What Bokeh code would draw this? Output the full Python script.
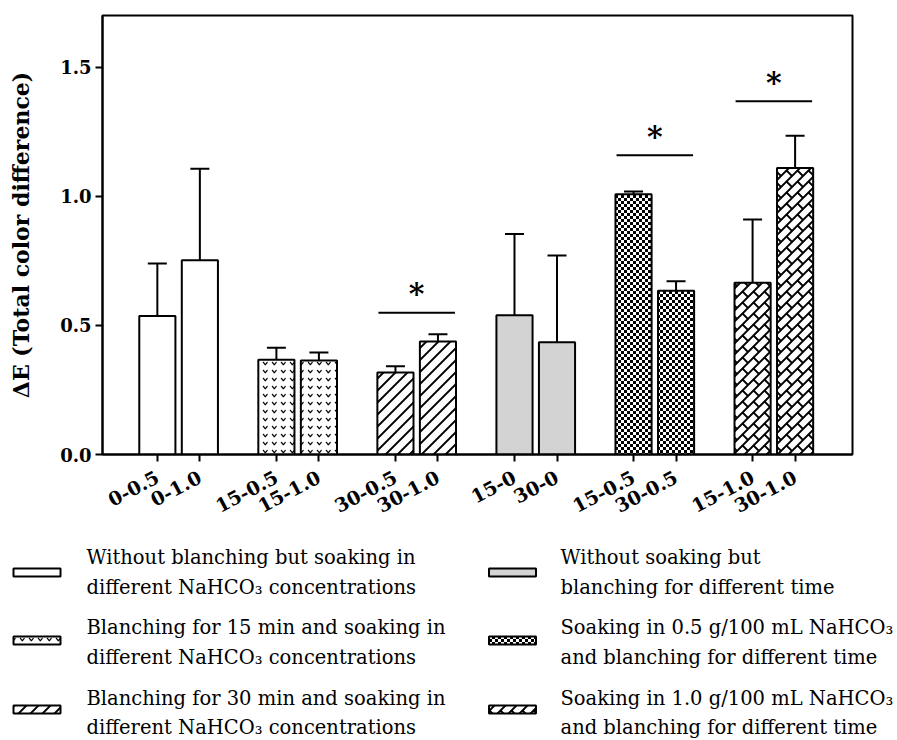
import math, zlib, struct, base64
from bokeh.plotting import figure
from bokeh.models import (ColumnDataSource, Range1d, FixedTicker, NumeralTickFormatter,
                          Whisker, TeeHead, ImageURLTexture)
from bokeh.core.properties import value
from bokeh.embed import file_html
from bokeh.resources import INLINE

# ---------------- data ----------------
labels = ["0-0.5", "0-1.0", "15-0.5", "15-1.0", "30-0.5", "30-1.0",
          "15-0", "30-0", "15-0.5", "30-0.5", "15-1.0", "30-1.0"]
groups = [0, 0, 1, 1, 2, 2, 3, 3, 4, 4, 5, 5]
slots = [0, 1, 0, 1, 0, 1, 0, 1, 0, 1, 0, 1]
means = [0.536, 0.752, 0.367, 0.364, 0.318, 0.438,
         0.539, 0.435, 1.008, 0.634, 0.665, 1.109]
sds = [0.204, 0.355, 0.046, 0.031, 0.024, 0.028,
       0.315, 0.336, 0.010, 0.037, 0.245, 0.125]

group_fill = ["white", "white", "white", "#d3d3d3", "white", "white"]
group_hatch = ["blank", "vmark", "diag", "blank", "checker", "brick"]

sig_groups = [2, 4, 5]
sig_y = [0.549, 1.159, 1.368]

legend_text = [
    ("Without blanching but soaking in", "different NaHCO\u2083 concentrations"),
    ("Blanching for 15 min and soaking in", "different NaHCO\u2083 concentrations"),
    ("Blanching for 30 min and soaking in", "different NaHCO\u2083 concentrations"),
    ("Without soaking but", "blanching for different time"),
    ("Soaking in 0.5 g/100 mL NaHCO\u2083", "and blanching for different time"),
    ("Soaking in 1.0 g/100 mL NaHCO\u2083", "and blanching for different time"),
]

y_ticks = [0.0, 0.5, 1.0, 1.5]
y_label = "\u0394E (Total color difference)"


# ---------------- pattern tiles (PNG data URIs) ----------------
def _png_uri(wd, ht, cover, n=4):
    rows = []
    for py in range(ht):
        row = bytearray()
        for px in range(wd):
            c = 0
            for sy in range(n):
                for sx in range(n):
                    if cover(px + (sx + 0.5) / n, py + (sy + 0.5) / n):
                        c += 1
            row += bytes((0, 0, 0, round(255 * c / (n * n))))
        rows.append(b"\x00" + bytes(row))
    raw = b"".join(rows)

    def chunk(t, d):
        return struct.pack(">I", len(d)) + t + d + struct.pack(">I", zlib.crc32(t + d) & 0xffffffff)

    png = (b"\x89PNG\r\n\x1a\n"
           + chunk(b"IHDR", struct.pack(">IIBBBBB", wd, ht, 8, 6, 0, 0, 0))
           + chunk(b"IDAT", zlib.compress(raw, 9))
           + chunk(b"IEND", b""))
    return "data:image/png;base64," + base64.b64encode(png).decode()


def _seg_d(px, py, ax, ay, bx, by):
    dx, dy = bx - ax, by - ay
    t = ((px - ax) * dx + (py - ay) * dy) / (dx * dx + dy * dy)
    t = max(0.0, min(1.0, t))
    return math.hypot(px - ax - t * dx, py - ay - t * dy)


def _periodic_segs(wd, ht, segs, w):
    def cover(x, y):
        for ox in (-wd, 0, wd):
            for oy in (-ht, 0, ht):
                for (ax, ay, bx, by) in segs:
                    if _seg_d(x, y, ax + ox, ay + oy, bx + ox, by + oy) <= w / 2:
                        return True
        return False
    return cover


def _diag(size, w):
    def cover(x, y):
        t = (x + y) % size
        return min(t, size - t) / math.sqrt(2) <= w / 2
    return cover


def _brick(size, w):
    d = _diag(size, w)
    j = _periodic_segs(size, size, [(size / 2, size / 2, size, size)], w)
    return lambda x, y: d(x, y) or j(x, y)


def _checker(size):
    h = size // 2
    return lambda x, y: ((int(x) // h) + (int(y) // h)) % 2 == 0


textures = {
    "vmark": ImageURLTexture(url=_png_uri(9, 8, _periodic_segs(
        9, 8, [(2.4, 2.4, 4.3, 4.8), (4.3, 4.8, 6.2, 2.4)], 1.2))),
    "diag": ImageURLTexture(url=_png_uri(12, 12, _diag(12, 2.0))),
    "checker": ImageURLTexture(url=_png_uri(6, 6, _checker(6), n=1)),
    "brick": ImageURLTexture(url=_png_uri(11, 11, _brick(11, 1.9))),
}

# ---------------- main chart ----------------
GROUP_PITCH = 28
BAR_PITCH = 10
BAR_W = 8.5

xs = [g * GROUP_PITCH + s * BAR_PITCH for g, s in zip(groups, slots)]
src = ColumnDataSource(dict(
    x=xs, top=means, upper=[m + e for m, e in zip(means, sds)],
    fill=[group_fill[g] for g in groups],
    hatch=[group_hatch[g] for g in groups],
))

SERIF = "DejaVu Serif"
PAGE_W = 897

p = figure(width=PAGE_W, height=540,
           x_range=Range1d(-12.9, 163.5), y_range=Range1d(0, 1.70),
           toolbar_location=None, output_backend="svg",
           min_border_left=102, min_border_right=45, min_border_top=15, min_border_bottom=86)
p.xgrid.visible = False
p.ygrid.visible = False
p.outline_line_color = "black"
p.outline_line_width = 2
p.background_fill_color = "white"
p.border_fill_color = "white"

w = Whisker(source=src, base="x", lower="top", upper="upper", dimension="height",
            line_color="black", line_width=2,
            upper_head=TeeHead(size=19, line_width=2, line_color="black"), lower_head=None)
p.add_layout(w)

p.vbar(x="x", top="top", bottom=0, width=BAR_W, source=src,
       fill_color="fill", line_color="black", line_width=2,
       hatch_pattern="hatch", hatch_extra=textures, hatch_color="black")

sig_src = ColumnDataSource(dict(
    x0=[g * GROUP_PITCH - 4 for g in sig_groups],
    x1=[g * GROUP_PITCH + BAR_PITCH + 4 for g in sig_groups],
    xm=[g * GROUP_PITCH + BAR_PITCH / 2 for g in sig_groups],
    y=sig_y, star=["*"] * len(sig_groups)))
p.segment(x0="x0", y0="y", x1="x1", y1="y", source=sig_src, line_color="black", line_width=2)
p.text(x="xm", y="y", text="star", source=sig_src, text_font=value(SERIF),
       text_font_style="bold", text_font_size="30px", text_align="center",
       text_baseline="alphabetic", y_offset=-19, text_color="black")

p.xaxis.ticker = FixedTicker(ticks=xs)
p.xaxis.major_label_overrides = {x: lab for x, lab in zip(xs, labels)}
p.xaxis.major_label_orientation = math.radians(28)
p.yaxis.ticker = FixedTicker(ticks=y_ticks)
p.yaxis.formatter = NumeralTickFormatter(format="0.0")
for ax in (p.xaxis, p.yaxis):
    ax.axis_line_width = 2
    ax.axis_line_color = "black"
    ax.major_tick_line_width = 2
    ax.major_tick_line_color = "black"
    ax.major_tick_out = 7
    ax.major_tick_in = 0
    ax.minor_tick_line_color = None
    ax.major_label_text_font = SERIF
    ax.major_label_text_font_style = "bold"
    ax.major_label_text_color = "black"
p.xaxis.major_label_text_font_size = "19px"
p.xaxis.major_label_standoff = 14
p.yaxis.major_label_text_font_size = "18px"
p.yaxis.major_label_standoff = 4
p.yaxis.axis_label = y_label
p.yaxis.axis_label_text_font = SERIF
p.yaxis.axis_label_text_font_style = "bold"
p.yaxis.axis_label_text_font_size = "22px"
p.yaxis.axis_label_text_color = "black"
p.yaxis.axis_label_standoff = 23

# ---------------- legend (separate root, pixel coordinates) ----------------
LH = 200
lg = figure(width=PAGE_W, height=LH, x_range=Range1d(0, PAGE_W), y_range=Range1d(LH, 0),
            toolbar_location=None, output_backend="svg", min_border=0,
            x_axis_type=None, y_axis_type=None)
lg.xgrid.visible = False
lg.ygrid.visible = False
lg.outline_line_color = None

col_sym_x = [36.5, 512]
col_txt_x = [86, 560]
row_sym_y = [32, 100, 169]
row_base_y = [(17, 47), (87, 117), (158, 187)]

sym = dict(x=[], y=[], fill=[], hatch=[])
txt = dict(x=[], y=[], text=[])
for g, (l1, l2) in enumerate(legend_text):
    ci, ri = g // 3, g % 3
    sym["x"].append(col_sym_x[ci]); sym["y"].append(row_sym_y[ri])
    sym["fill"].append(group_fill[g]); sym["hatch"].append(group_hatch[g])
    for line, yb in zip((l1, l2), row_base_y[ri]):
        txt["x"].append(col_txt_x[ci]); txt["y"].append(yb); txt["text"].append(line)

lg.rect(x="x", y="y", width=47, height=8, source=ColumnDataSource(sym),
        fill_color="fill", line_color="black", line_width=2,
        hatch_pattern="hatch", hatch_extra=textures, hatch_color="black")
lg.text(x="x", y="y", text="text", source=ColumnDataSource(txt),
        text_font=value(SERIF), text_font_size="19.5px", text_align="left",
        text_baseline="alphabetic", text_color="black")

open("out.html", "w").write(file_html([p, lg], INLINE))
